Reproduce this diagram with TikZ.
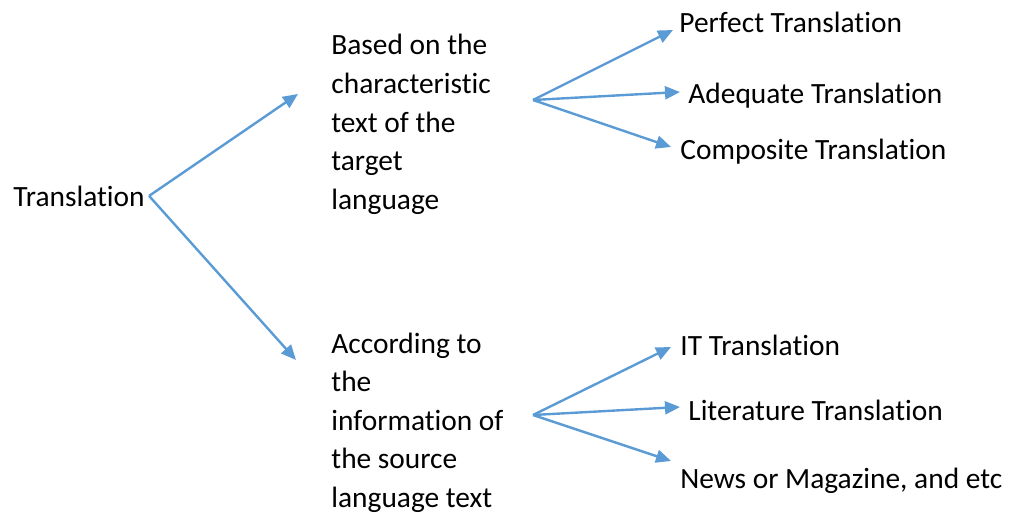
\documentclass[tikz,border=0pt]{standalone}
\usepackage{fontspec}
\setmainfont{Carlito}[Ligatures=NoCommon]
\usetikzlibrary{arrows.meta}
\definecolor{arrowblue}{RGB}{91,155,213}
\tikzset{
    lbl/.style={anchor=base west, inner sep=0pt, align=left,
        font=\fontsize{14.7}{19.25}\selectfont},
    branch/.style={draw=arrowblue, line width=1.2pt,
        -{Triangle[length=7.5pt,width=6.5pt]}}
}
\begin{document}
\begin{tikzpicture}[x=0.5pt, y=-0.5pt]
            \useasboundingbox (0,0) rectangle (1010,513);
            % root and the two kinds (base of a block is its last line)
            \node[lbl] (trans) at (13,206) {Translation};
            \node[lbl] (target) at (331,209) {Based on the\\characteristic\\text of the\\target\\language};
            \node[lbl] (source) at (331,507) {According to\\the\\information of\\the source\\language text};
            \coordinate (topend) at (298,94);
            \coordinate (botend) at (296,360);
            \draw[branch] ([xshift=2pt]trans.east) -- (topend);
            \draw[branch] ([xshift=2pt]trans.east) -- (botend);
            % leaves of the upper fan
            \coordinate (topfan) at (533,100);
            \node[lbl] (perfect) at (679,33) {Perfect Translation};
            \node[lbl] (adequate) at (688,104) {Adequate Translation};
            \node[lbl] (composite) at (680,160) {Composite Translation};
            \coordinate (p1) at (673,30);
            \coordinate (p2) at (680,92);
            \coordinate (p3) at (671,147);
            \foreach \p in {p1,p2,p3} {
                \draw[branch] (topfan) -- (\p);
            }
            % leaves of the lower fan
            \coordinate (botfan) at (533,415);
            \node[lbl] (it) at (680,355) {IT Translation};
            \node[lbl] (literature) at (688,420) {Literature Translation};
            \node[lbl] (news) at (680,488) {News or Magazine, and etc};
            \coordinate (q1) at (671,347);
            \coordinate (q2) at (680,407);
            \coordinate (q3) at (671,461);
            \foreach \q in {q1,q2,q3} {
                \draw[branch] (botfan) -- (\q);
            }
        \end{tikzpicture}
\end{document}
